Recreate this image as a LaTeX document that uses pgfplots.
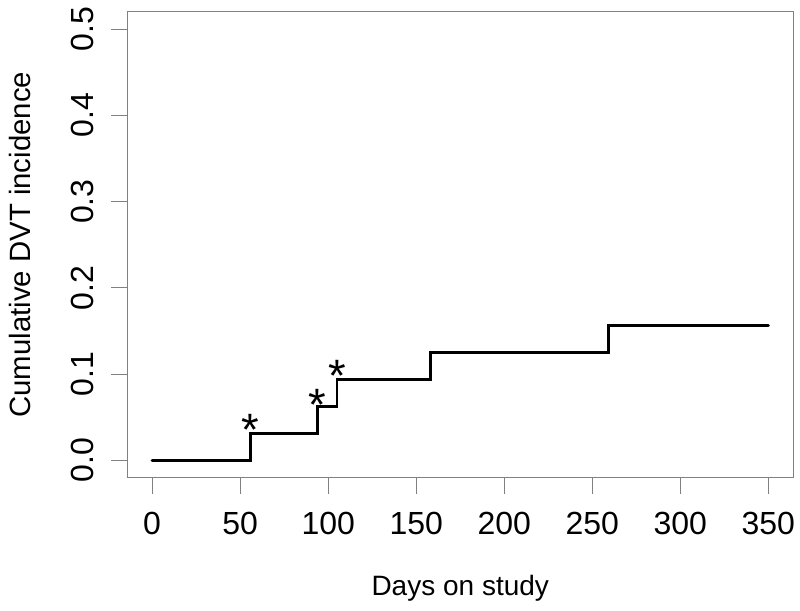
\documentclass[border=0pt]{standalone}
\usepackage{fontspec}
\setmainfont{Liberation Sans}
\usepackage{pgfplots}
\pgfplotsset{compat=1.18}
\begin{document}
\begin{tikzpicture}
\begin{axis}[name=a, scale only axis, width=499pt, height=349pt,
  xmin=-14, xmax=364, ymin=-0.02, ymax=0.52,
  axis line style={black!50, line width=0.75pt},
  xtick={0,50,...,350}, ytick={0,0.1,0.2,0.3,0.4,0.5},
  tick align=outside, major tick length=12.5pt,
  tick style={black!50, line width=0.75pt},
  xtick pos=lower, ytick pos=left,
  /pgf/number format/assume math mode=true,
  ticklabel style={font=\fontsize{24}{28}\selectfont},
  xticklabel shift=10pt, yticklabel shift=9pt,
  yticklabel style={rotate=90, anchor=south, /pgf/number format/fixed, /pgf/number format/fixed zerofill, /pgf/number format/precision=1},
  xlabel={Days on study}, ylabel={Cumulative DVT incidence},
  xlabel style={font=\fontsize{21}{24}\selectfont, at={(axis description cs:0.5,-0.2378)}, anchor=center},
  ylabel style={font=\fontsize{22}{24}\selectfont, at={(axis description cs:-0.1608,0.5)}, anchor=center},
]
\addplot[const plot, black, line width=2.2pt, line cap=round] coordinates {
(0,0) (56,0.03125) (94,0.0625) (105,0.09375) (158,0.125) (259,0.15625) (350,0.15625)};
\addplot[only marks, mark=none, nodes near coords={*},
  every node near coord/.style={anchor=base, font=\fontsize{34}{34}\selectfont, yshift=-19pt, inner sep=0pt}]
  coordinates {(56,0.047) (94,0.076) (105,0.109)};
\end{axis}
\path (a.south west) ++(-95.6pt,-99.75pt) coordinate (bl);
\path (a.north east) ++(5.25pt,9pt) coordinate (tr);
\pgfresetboundingbox
\path[use as bounding box] (bl) rectangle (tr);
\end{tikzpicture}
\end{document}
